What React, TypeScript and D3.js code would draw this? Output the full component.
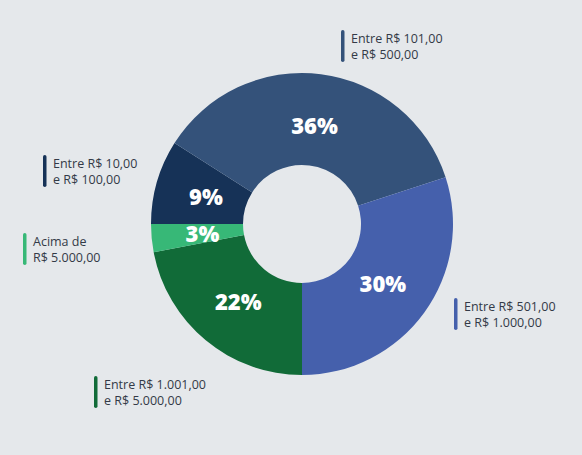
import React from "react";
import { select, pie, arc, PieArcDatum } from "d3";

// slices, clockwise from the bottom
const categories = [
  ["Entre R$ 1.001,00", "e R$ 5.000,00"],
  ["Acima de", "R$ 5.000,00"],
  ["Entre R$ 10,00", "e R$ 100,00"],
  ["Entre R$ 101,00", "e R$ 500,00"],
  ["Entre R$ 501,00", "e R$ 1.000,00"],
];
const shares = [22, 3, 9, 36, 30];
const colors = ["#116b38", "#37b877", "#163257", "#34527a", "#4560ac"];

// where each legend note sits (bar left / top)
const notePos: [number, number][] = [
  [94, 376],
  [23, 233],
  [43, 155],
  [341, 30],
  [454, 298],
];

const W = 582;
const H = 455;

export default function App() {
  const svgRef = React.useRef<SVGSVGElement>(null);

  React.useEffect(() => {
    const svg = select(svgRef.current);
    const cx = 302;
    const cy = 224;
    const outer = 151;
    const inner = 59;

    const rows = shares.map((v, i) => ({ v, i }));
    const arcs = pie<{ v: number; i: number }>()
      .sort(null)
      .value((d) => d.v)
      .startAngle(Math.PI)
      .endAngle(Math.PI * 3)(rows);

    const path = arc<PieArcDatum<{ v: number; i: number }>>()
      .innerRadius(inner)
      .outerRadius(outer);
    const labelArc = arc<PieArcDatum<{ v: number; i: number }>>()
      .innerRadius(100)
      .outerRadius(100);

    const g = svg.append("g").attr("transform", `translate(${cx},${cy})`);

    g.selectAll("path")
      .data(arcs)
      .join("path")
      .attr("d", path)
      .attr("fill", (d) => colors[d.data.i]);

    g.selectAll("text")
      .data(arcs)
      .join("text")
      .attr("x", (d) => labelArc.centroid(d)[0])
      .attr("y", (d) => labelArc.centroid(d)[1])
      .attr("text-anchor", "middle")
      .attr("dominant-baseline", "central")
      .attr("fill", "#ffffff")
      .attr("font-family", "'Open Sans', sans-serif")
      .attr("font-weight", 800)
      .attr("font-size", 22)
      .text((d) => `${d.data.v}%`);

    const notes = svg
      .append("g")
      .selectAll("g")
      .data(categories)
      .join("g")
      .attr("transform", (_, i) => `translate(${notePos[i][0]},${notePos[i][1]})`);

    notes
      .append("rect")
      .attr("width", 3.5)
      .attr("height", 32)
      .attr("rx", 1.75)
      .attr("fill", (_, i) => colors[i]);

    notes
      .append("text")
      .attr("font-family", "'Open Sans', sans-serif")
      .attr("font-size", 12.5)
      .attr("fill", "#333a47")
      .selectAll("tspan")
      .data((d) => d)
      .join("tspan")
      .attr("x", 10)
      .attr("y", (_, j) => 13 + j * 16)
      .text((d) => d);

    return () => {
      svg.selectAll("*").remove();
    };
  }, []);

  return (
    <svg
      ref={svgRef}
      width={W}
      height={H}
      style={{ position: "absolute", left: 0, top: 0, background: "#e5e8eb" }}
    />
  );
}
